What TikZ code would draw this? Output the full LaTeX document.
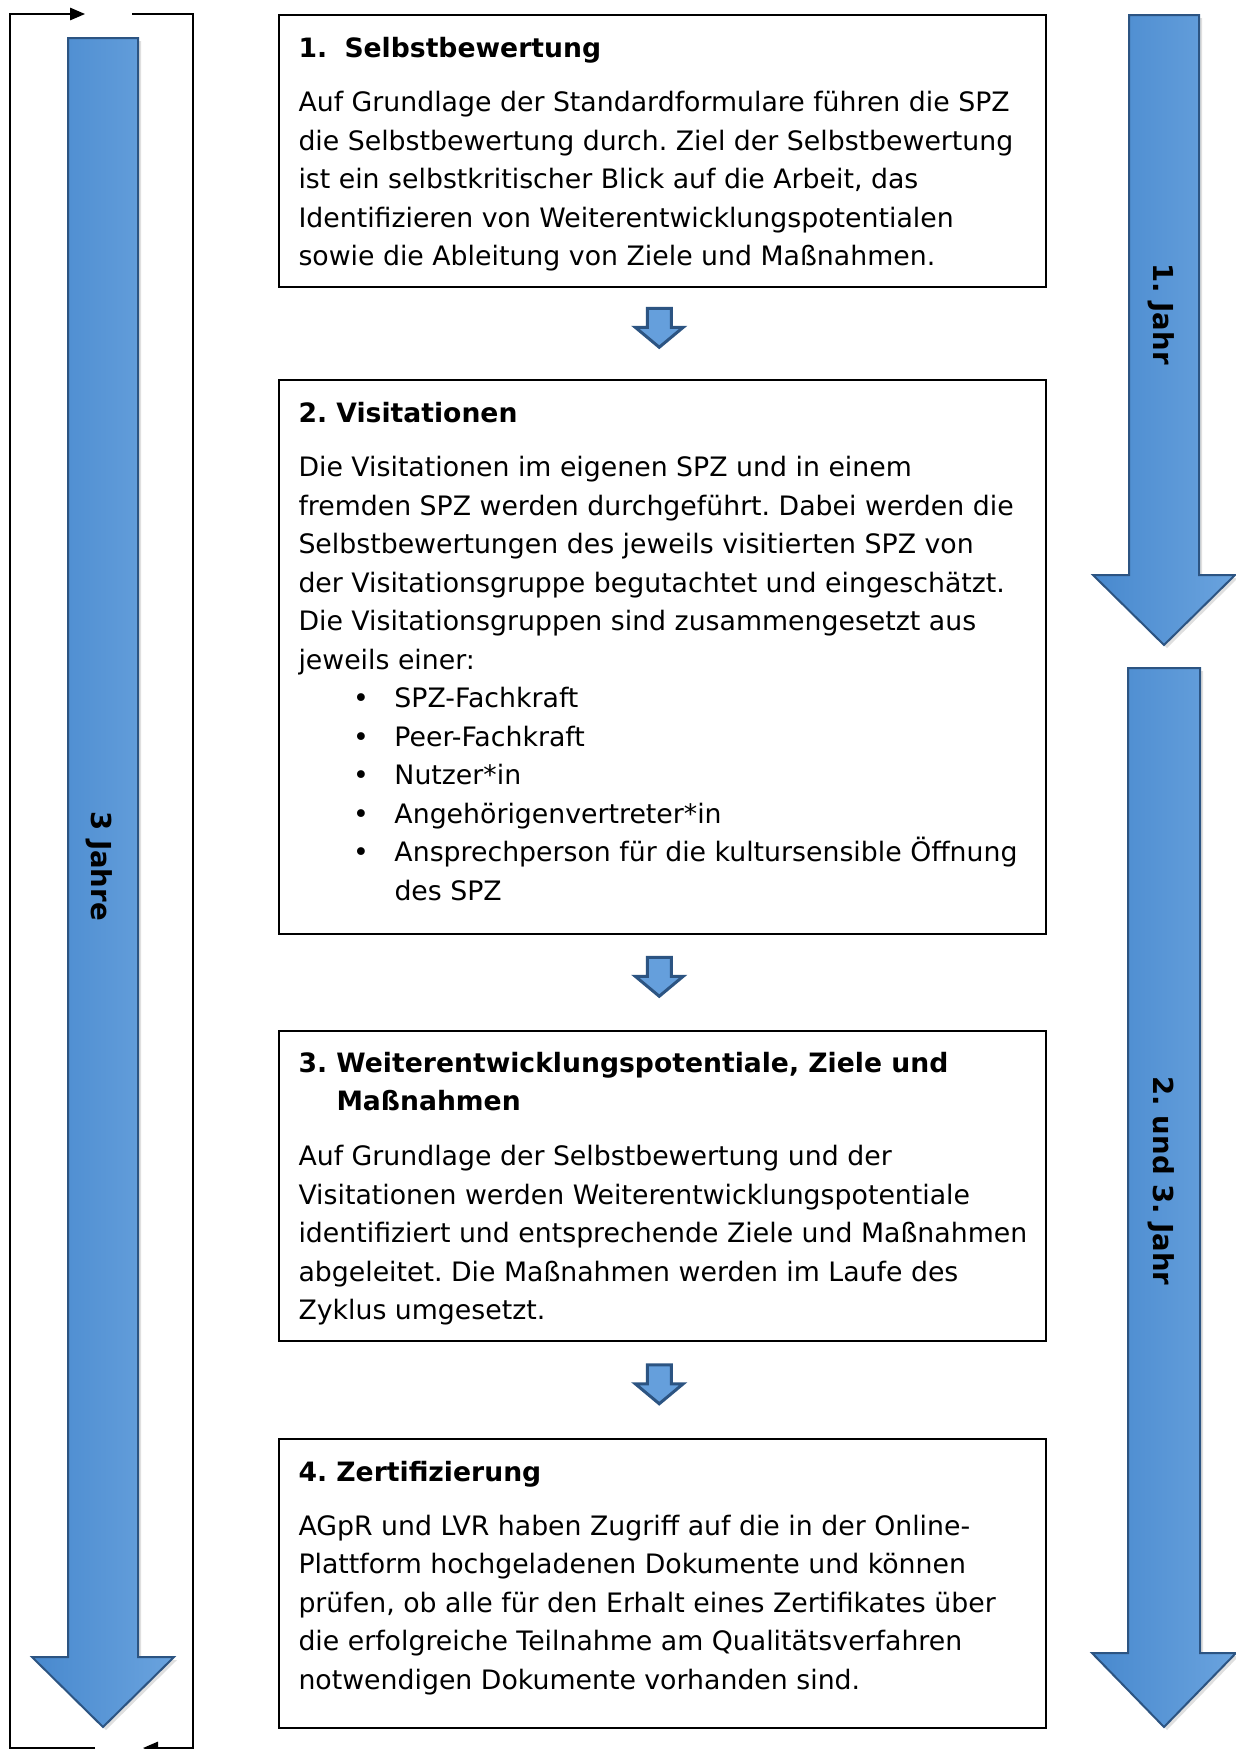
\documentclass[tikz,border=0pt]{standalone}
\usepackage{fontspec}
\setmainfont{DejaVu Sans}
\usetikzlibrary{arrows.meta,calc,shadows}
\frenchspacing

\definecolor{arrowleft}{RGB}{72,137,206}
\definecolor{arrowright}{RGB}{106,163,222}
\definecolor{arrowedge}{RGB}{44,84,130}

% big block arrow: centre x, top, head base, tip, shaft half, head half
\newcommand{\bigdown}[6]{%
  \draw[bluearrow] (#1-#5,#2) -- (#1+#5,#2) -- (#1+#5,#3) -- (#1+#6,#3)
    -- (#1,#4) -- (#1-#6,#3) -- (#1-#5,#3) -- cycle;}
% small block arrow around a named coordinate
\newcommand{\smalldown}[1]{%
  \draw[steparrow] ([shift={(-15,-25)}]#1) -- ([shift={(9,-25)}]#1)
    -- ([shift={(9,-6)}]#1) -- ([shift={(21,-6)}]#1) -- ([shift={(-3,14)}]#1)
    -- ([shift={(-27,-6)}]#1) -- ([shift={(-15,-6)}]#1) -- cycle;}

\begin{document}
\begin{tikzpicture}[x=0.4pt,y=-0.4pt,
  box/.style={draw, line width=0.6pt, anchor=north west, inner sep=0,
    minimum width=306.8pt},
  title/.style={font=\fontsize{10.65}{15.4}\selectfont\bfseries,
    anchor=base west, inner sep=0, align=left},
  para/.style={font=\fontsize{10.7}{15.4}\selectfont,
    anchor=base west, inner sep=0, align=left},
  yearlabel/.style={font=\fontsize{11}{13}\selectfont\bfseries, rotate=-90},
  bluearrow/.style={draw=arrowedge, line width=0.8pt,
    left color=arrowleft, right color=arrowright,
    drop shadow={shadow xshift=1.2pt, shadow yshift=-1.2pt, opacity=0.25}},
  steparrow/.style={draw=arrowedge, line width=1.2pt, fill=arrowright!85!arrowleft},
  loopline/.style={line width=0.6pt, -{Triangle[length=6pt,width=5pt]}}]
\useasboundingbox (0,0) rectangle (1235,1749);

% cycle frame on the left
\draw[loopline] (95,1748) -- (10,1748) -- (10,14) -- (85,14);
\draw[loopline] (132,14) -- (193,14) -- (193,1748) -- (143,1748);

% big arrows
\bigdown{103}{38}{1657}{1727}{35}{71}
\bigdown{1164}{15}{575}{645}{35}{71}
\bigdown{1164}{668}{1653}{1727}{36}{72}

\node[yearlabel] (three) at (99,866) {3 Jahre};
\node[yearlabel] (first) at (1161,314) {1. Jahr};
\node[yearlabel] (later) at (1161,1181) {2. und 3. Jahr};

% boxes
\node[box, minimum height=108.8pt] (box1) at (278,14) {};
\node[box, minimum height=221.6pt] (box2) at (278,379) {};
\node[box, minimum height=124pt] (box3) at (278,1030) {};
\node[box, minimum height=115.6pt] (box4) at (278,1438) {};

% base of a multi-line node is its last line
\node[title] (t1) at ([shift={(8pt,-17.2pt)}]box1.north west)
  {\makebox[18.4pt][l]{1.}Selbstbewertung};
\node[para] (p1) at ([shift={(8pt,-100.6pt)}]box1.north west)
  {Auf Grundlage der Standardformulare führen die SPZ\\
   die Selbstbewertung durch. Ziel der Selbstbewertung\\
   ist ein selbstkritischer Blick auf die Arbeit, das\\
   Identifizieren von Weiterentwicklungspotentialen\\
   sowie die Ableitung von Ziele und Maßnahmen.};

\node[title] (t2) at ([shift={(8pt,-17.2pt)}]box2.north west)
  {2. Visitationen};
\node[para] (p2) at ([shift={(8pt,-208.4pt)}]box2.north west)
  {Die Visitationen im eigenen SPZ und in einem\\
   fremden SPZ werden durchgeführt. Dabei werden die\\
   Selbstbewertungen des jeweils visitierten SPZ von\\
   der Visitationsgruppe begutachtet und eingeschätzt.\\
   Die Visitationsgruppen sind zusammengesetzt aus\\
   jeweils einer:\\
   \hspace*{21.8pt}\makebox[16.6pt][l]{\textbullet}SPZ-Fachkraft\\
   \hspace*{21.8pt}\makebox[16.6pt][l]{\textbullet}Peer-Fachkraft\\
   \hspace*{21.8pt}\makebox[16.6pt][l]{\textbullet}Nutzer*in\\
   \hspace*{21.8pt}\makebox[16.6pt][l]{\textbullet}Angehörigenvertreter*in\\
   \hspace*{21.8pt}\makebox[16.6pt][l]{\textbullet}Ansprechperson für die kultursensible Öffnung\\
   \hspace*{38.4pt}des SPZ};

\node[title] (t3) at ([shift={(8pt,-32.2pt)}]box3.north west)
  {\makebox[15.2pt][l]{3.}Weiterentwicklungspotentiale, Ziele und\\
   \hspace*{15.2pt}Maßnahmen};
\node[para] (p3) at ([shift={(8pt,-115.9pt)}]box3.north west)
  {Auf Grundlage der Selbstbewertung und der\\
   Visitationen werden Weiterentwicklungspotentiale\\
   identifiziert und entsprechende Ziele und Maßnahmen\\
   abgeleitet. Die Maßnahmen werden im Laufe des\\
   Zyklus umgesetzt.};

\node[title] (t4) at ([shift={(8pt,-17.4pt)}]box4.north west)
  {4. Zertifizierung};
\node[para] (p4) at ([shift={(8pt,-100.4pt)}]box4.north west)
  {AGpR und LVR haben Zugriff auf die in der Online-\\
   Plattform hochgeladenen Dokumente und können\\
   prüfen, ob alle für den Erhalt eines Zertifikates über\\
   die erfolgreiche Teilnahme am Qualitätsverfahren\\
   notwendigen Dokumente vorhanden sind.};

% small arrows between the boxes
\coordinate (s1) at ($(box1.south)!0.5!(box2.north)$);
\coordinate (s2) at ($(box2.south)!0.5!(box3.north)$);
\coordinate (s3) at ($(box3.south)!0.5!(box4.north)$);
\smalldown{s1}
\smalldown{s2}
\smalldown{s3}
\end{tikzpicture}
\end{document}
